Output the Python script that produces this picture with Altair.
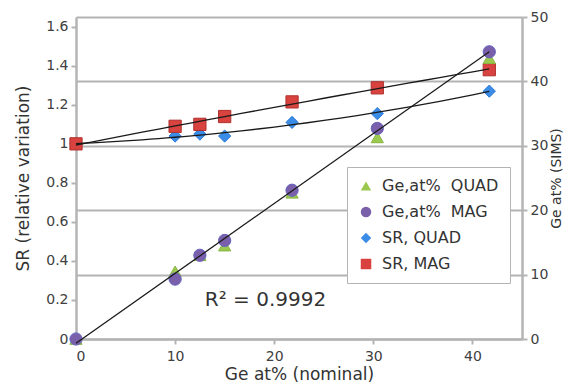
import altair as alt
import pandas as pd

# ---- data ----
x_nominal = [0, 10, 12.5, 15, 21.8, 30.4, 41.7]
ge_quad = [0, 10.5, 13.0, 14.5, 22.7, 31.3, 43.6]
ge_mag = [0, 9.3, 13.0, 15.3, 23.1, 32.7, 44.6]
sr_quad = [1.0, 1.04, 1.05, 1.04, 1.11, 1.155, 1.27]
sr_mag = [1.0, 1.09, 1.10, 1.14, 1.215, 1.287, 1.38]

series_names = ["Ge,at%\u00a0 QUAD", "Ge,at%\u00a0 MAG", "SR, QUAD", "SR, MAG"]
series_colors = ["#9BC94F", "#7A5FAA", "#3A8CE6", "#D8433F"]
series_edges = ["#88B540", "#6462C0", "#2F7AD6", "#B0302C"]
series_shapes = ["triangle-up", "circle", "diamond", "square"]

r2_label = ["R² = 0.9992"]
r2_x = [13.0]
r2_y = [6.1]

FONT = "DejaVu Sans"
GRAY = "#b4b4b4"

rows = []
for name, vals in zip(series_names, [ge_quad, ge_mag, sr_quad, sr_mag]):
    for x, v in zip(x_nominal, vals):
        rows.append({"x": x, "v": v, "series": name})
df = pd.DataFrame(rows)
ge_df = df[df["series"].str.startswith("Ge")]
sr_df = df[df["series"].str.startswith("SR")]
txt_df = pd.DataFrame({"x": r2_x, "v": r2_y, "t": r2_label})

xscale = alt.Scale(domain=[0, 45], nice=False, zero=False)
xaxis = alt.Axis(values=[0, 10, 20, 30, 40], title="Ge at% (nominal)", grid=False,
                 labelPadding=5, titlePadding=3)

color = alt.Color("series:N", scale=alt.Scale(domain=series_names, range=series_colors),
                  legend=alt.Legend(title=None, orient="none", legendX=271, legendY=150,
                                    strokeColor=GRAY, fillColor="white", padding=11,
                                    labelFontSize=16, labelFont=FONT, labelColor="#333333",
                                    symbolSize=110, rowPadding=10, labelOffset=8,
                                    symbolStrokeWidth=0))
shape = alt.Shape("series:N", scale=alt.Scale(domain=series_names, range=series_shapes))
stroke = alt.Stroke("series:N", scale=alt.Scale(domain=series_names, range=series_edges),
                    legend=None)

# ---- left axis layer: SR ----
sr_scale = alt.Scale(domain=[0, 1.65], nice=False, zero=False)
sr_axis = alt.Axis(values=[0, 0.2, 0.4, 0.6, 0.8, 1.0, 1.2, 1.4, 1.6], format="~g",
                   title="SR (relative variation)", grid=False, orient="left",
                   labelPadding=3, titlePadding=13)
sr_points = alt.Chart(sr_df).mark_point(filled=True, size=150, opacity=1, strokeWidth=1).encode(
    x=alt.X("x:Q", scale=xscale, axis=xaxis),
    y=alt.Y("v:Q", scale=sr_scale, axis=sr_axis),
    color=color, shape=shape, stroke=stroke,
)
sr_lines = alt.Chart(sr_df).transform_regression(
    "x", "v", groupby=["series"], method="poly", order=2
).mark_line(color="#1a1a1a", strokeWidth=1.3).encode(
    x=alt.X("x:Q", scale=xscale),
    y=alt.Y("v:Q", scale=sr_scale),
    detail="series:N",
)
left = alt.layer(sr_points, sr_lines)

# ---- right axis layer: Ge ----
ge_scale = alt.Scale(domain=[0, 50], nice=False, zero=False)
ge_axis = alt.Axis(values=[0, 10, 20, 30, 40, 50], title="Ge at% (SIMS)", orient="right",
                   grid=True, gridColor=GRAY, gridWidth=2, labelPadding=3,
                   titlePadding=2, titleAngle=270, titleBaseline="top", titleFontSize=14)
ge_points = alt.Chart(ge_df).mark_point(filled=True, size=150, opacity=1, strokeWidth=1).encode(
    x=alt.X("x:Q", scale=xscale, axis=xaxis),
    y=alt.Y("v:Q", scale=ge_scale, axis=ge_axis),
    color=color, shape=shape, stroke=stroke,
)
ge_line = alt.Chart(ge_df[ge_df["series"] == "Ge,at%\u00a0 MAG"]).transform_regression(
    "x", "v", method="linear"
).mark_line(color="#1a1a1a", strokeWidth=1.3).encode(
    x=alt.X("x:Q", scale=xscale),
    y=alt.Y("v:Q", scale=ge_scale),
)
r2_text = alt.Chart(txt_df).mark_text(align="left", baseline="middle", font=FONT,
                                      fontSize=20, color="#333333").encode(
    x=alt.X("x:Q", scale=xscale),
    y=alt.Y("v:Q", scale=ge_scale),
    text="t:N",
)
right = alt.layer(ge_points, ge_line, r2_text)

chart = alt.layer(left, right).resolve_scale(y="independent").properties(
    width=446, height=322,
    autosize=alt.AutoSizeParams(type="none"),
    padding={"left": 68, "top": 9, "right": 42, "bottom": 43},
).configure_view(stroke=None).configure_axis(
    domainColor=GRAY, domainWidth=2.5, tickColor=GRAY, tickWidth=2, tickSize=5,
    labelFont=FONT, labelFontSize=14, labelColor="#404040",
    titleFont=FONT, titleFontSize=17, titleColor="#333333", titleFontWeight="normal",
)

chart.save("out.html", embed_options={"renderer": "svg", "actions": False})
